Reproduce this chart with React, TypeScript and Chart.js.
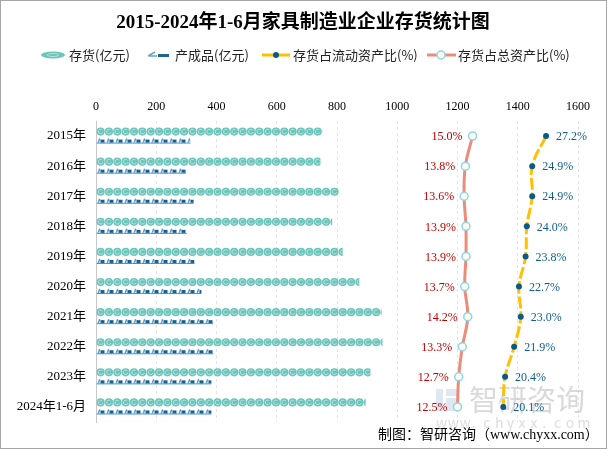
import React, { useEffect, useRef } from "react";
import { Chart, registerables } from "chart.js";
Chart.register(...registerables);

const categories = ["2015年", "2016年", "2017年", "2018年", "2019年", "2020年", "2021年", "2022年", "2023年", "2024年1-6月"];
const inventory = [751, 745, 807, 784, 819, 874, 948, 951, 911, 895];
const finished = [313, 299, 324, 302, 327, 350, 390, 390, 383, 383];
const currentRatio = [27.2, 24.9, 24.9, 24.0, 23.8, 22.7, 23.0, 21.9, 20.4, 20.1];
const totalRatio = [15.0, 13.8, 13.6, 13.9, 13.9, 13.7, 14.2, 13.3, 12.7, 12.5];
const xTickMax = 1600;
const xTickStep = 200;

const TITLE = "2015-2024年1-6月家具制造业企业存货统计图";
const LEGEND = ["存货(亿元)", "产成品(亿元)", "存货占流动资产比(%)", "存货占总资产比(%)"];
const FOOTER = "制图：智研咨询（www.chyxx.com）";

const FONT = "'Liberation Serif','Noto Sans CJK SC',serif";
const CJK = "'Noto Sans CJK SC',sans-serif";

function drawCircleSym(ctx: CanvasRenderingContext2D, cx: number, cy: number, r: number) {
  ctx.beginPath();
  ctx.arc(cx, cy, r, 0, Math.PI * 2);
  ctx.fillStyle = "#6cc5bb";
  ctx.fill();
  ctx.beginPath();
  ctx.arc(cx, cy, r * 0.55, 0.3, Math.PI * 1.8);
  ctx.strokeStyle = "#b4e4de";
  ctx.lineWidth = 1;
  ctx.stroke();
}

function drawFinishedSym(ctx: CanvasRenderingContext2D, x0: number, top: number, h: number) {
  ctx.fillStyle = "#3f8cc0";
  ctx.fillRect(x0, top + h - 1, 9, 1);
  ctx.fillStyle = "#5aa0cf";
  ctx.beginPath();
  ctx.moveTo(x0 + 1, top + h - 1);
  ctx.lineTo(x0 + 2.5, top + 0.5);
  ctx.lineTo(x0 + 4, top + 1.5);
  ctx.lineTo(x0 + 2.5, top + h - 1);
  ctx.closePath();
  ctx.fill();
  ctx.fillStyle = "#17608f";
  ctx.fillRect(x0 + 4, top + 2, 4, h - 3);
}

const pictorial = {
  id: "pictorial",
  afterDatasetDraw(chart: any, args: any) {
    const idx = args.index;
    if (idx !== 0 && idx !== 1) return;
    const ctx = chart.ctx as CanvasRenderingContext2D;
    const meta = args.meta;
    meta.data.forEach((el: any) => {
      const { x, y, base, height } = el.getProps(["x", "y", "base", "height"], true);
      const left = Math.min(base, x);
      const right = Math.max(base, x);
      ctx.save();
      ctx.beginPath();
      ctx.rect(left, y - height / 2 - 1, right - left, height + 2);
      ctx.clip();
      if (idx === 0) {
        const step = 8.35;
        const r = 4.1;
        for (let cx = left + r; cx - r < right; cx += step) drawCircleSym(ctx, cx, y, r);
      } else {
        const step = 9;
        const h = 6;
        for (let sx = left; sx < right; sx += step) drawFinishedSym(ctx, sx, y - h / 2, h);
      }
      ctx.restore();
    });
  },
};

const labelsPlugin = {
  id: "valueLabels",
  afterDatasetsDraw(chart: any) {
    const ctx = chart.ctx as CanvasRenderingContext2D;
    ctx.save();
    ctx.font = `12px ${FONT}`;
    ctx.textBaseline = "middle";
    const m3 = chart.getDatasetMeta(3);
    m3.data.forEach((p: any, i: number) => {
      ctx.fillStyle = "#c00000";
      ctx.textAlign = "right";
      ctx.fillText(totalRatio[i].toFixed(1) + "%", p.x - 10, p.y + 1);
    });
    const m2 = chart.getDatasetMeta(2);
    m2.data.forEach((p: any, i: number) => {
      ctx.fillStyle = "#0f5f8f";
      ctx.textAlign = "left";
      ctx.fillText(currentRatio[i].toFixed(1) + "%", p.x + 10, p.y + 1);
    });
    ctx.restore();
  },
};

const decor = {
  id: "decor",
  beforeDatasetsDraw(chart: any) {
    const ctx = chart.ctx as CanvasRenderingContext2D;
    ctx.save();
    // watermark
    ctx.fillStyle = "rgba(190,210,230,0.5)";
    ctx.fillRect(436, 389, 7, 22);
    ctx.fillRect(446, 389, 11, 7);
    ctx.fillRect(446, 398, 11, 13);
    ctx.fillStyle = "rgba(150,150,150,0.36)";
    ctx.font = `29px ${CJK}`;
    ctx.textBaseline = "middle";
    ctx.textAlign = "left";
    ctx.fillText("智研咨询", 469, 400);
    ctx.font = `14px ${CJK}`;
    ctx.fillStyle = "rgba(170,170,170,0.4)";
    const w = "www.chyxx.com";
    for (let i = 0; i < w.length; i++) ctx.fillText(w[i], 436 + i * 11.8, 423);
    ctx.restore();
  },
  afterDraw(chart: any) {
    const ctx = chart.ctx as CanvasRenderingContext2D;
    ctx.save();
    // border
    ctx.strokeStyle = "#a6a6a6";
    ctx.lineWidth = 1;
    ctx.strokeRect(0.5, 0.5, 606, 448);
    // title
    ctx.fillStyle = "#000";
    ctx.font = `bold 19px ${FONT}`;
    ctx.textAlign = "center";
    ctx.textBaseline = "middle";
    ctx.fillText(TITLE, 303, 23);
    // legend
    const ly = 55;
    ctx.font = `13px ${CJK}`;
    ctx.textAlign = "left";
    ctx.fillStyle = "#222";
    // item 1
    ctx.beginPath();
    ctx.ellipse(53, ly, 12, 3.5, 0, 0, Math.PI * 2);
    ctx.fillStyle = "#6cc5bb";
    ctx.fill();
    ctx.beginPath();
    ctx.ellipse(53, ly, 6, 1.5, 0, 0, Math.PI * 2);
    ctx.strokeStyle = "#b4e4de";
    ctx.lineWidth = 1;
    ctx.stroke();
    ctx.fillStyle = "#222";
    ctx.fillText(LEGEND[0], 69, ly);
    // item 2
    ctx.strokeStyle = "#6aa5c8";
    ctx.lineWidth = 1.5;
    ctx.beginPath();
    ctx.moveTo(148, ly + 1);
    ctx.lineTo(155, ly - 3);
    ctx.moveTo(149, ly + 1);
    ctx.lineTo(157, ly + 1);
    ctx.stroke();
    ctx.fillStyle = "#1f6391";
    ctx.fillRect(158, ly - 1, 11, 3);
    ctx.fillStyle = "#222";
    ctx.fillText(LEGEND[1], 175, ly);
    // item 3
    ctx.strokeStyle = "#ffc000";
    ctx.lineWidth = 3;
    ctx.beginPath();
    ctx.moveTo(262, ly);
    ctx.lineTo(290, ly);
    ctx.stroke();
    ctx.beginPath();
    ctx.arc(276, ly, 3, 0, Math.PI * 2);
    ctx.fillStyle = "#0b5a86";
    ctx.fill();
    ctx.fillStyle = "#222";
    ctx.fillText(LEGEND[2], 293, ly);
    // item 4
    ctx.strokeStyle = "#ec8c78";
    ctx.lineWidth = 3;
    ctx.beginPath();
    ctx.moveTo(427, ly);
    ctx.lineTo(456, ly);
    ctx.stroke();
    ctx.beginPath();
    ctx.arc(441, ly, 4, 0, Math.PI * 2);
    ctx.fillStyle = "#fdfbe9";
    ctx.fill();
    ctx.strokeStyle = "#8fd3f0";
    ctx.lineWidth = 1.5;
    ctx.stroke();
    ctx.fillStyle = "#222";
    ctx.fillText(LEGEND[3], 458, ly);
    // footer
    ctx.fillStyle = "#000";
    ctx.font = `14px ${FONT}`;
    ctx.fillText(FOOTER, 378, 435);
    ctx.restore();
  },
};

export default function App() {
  const ref = useRef<HTMLCanvasElement | null>(null);
  useEffect(() => {
    document.body.style.margin = "0";
    const canvas = ref.current;
    if (!canvas) return;
    const chart = new Chart(canvas, {
      type: "bar",
      data: {
        labels: categories,
        datasets: [
          {
            type: "bar",
            label: LEGEND[0],
            data: inventory,
            xAxisID: "x",
            yAxisID: "y",
            backgroundColor: "rgba(0,0,0,0)",
            borderWidth: 0,
            categoryPercentage: 0.6,
            barPercentage: 0.9,
          } as any,
          {
            type: "bar",
            label: LEGEND[1],
            data: finished,
            xAxisID: "x",
            yAxisID: "y",
            backgroundColor: "rgba(0,0,0,0)",
            borderWidth: 0,
            categoryPercentage: 0.6,
            barPercentage: 0.6,
          } as any,
          {
            type: "line",
            label: LEGEND[2],
            data: currentRatio,
            indexAxis: "y",
            xAxisID: "x2",
            yAxisID: "y",
            borderColor: "#ffc000",
            borderWidth: 3,
            borderDash: [12, 3],
            tension: 0.4,
            pointRadius: 3,
            pointBackgroundColor: "#0b5a86",
            pointBorderColor: "#0b5a86",
            pointBorderWidth: 0,
            fill: false,
          } as any,
          {
            type: "line",
            label: LEGEND[3],
            data: totalRatio,
            indexAxis: "y",
            xAxisID: "x2",
            yAxisID: "y",
            borderColor: "#ec8c78",
            borderWidth: 3,
            tension: 0.4,
            pointRadius: 4,
            pointBackgroundColor: "#fdfbe9",
            pointBorderColor: "#8fd3f0",
            pointBorderWidth: 1.5,
            fill: false,
          } as any,
        ],
      },
      options: {
        indexAxis: "y",
        responsive: false,
        animation: false,
        layout: { padding: { top: 95, right: 29, bottom: 27, left: 0 } },
        plugins: { legend: { display: false }, title: { display: false }, tooltip: { enabled: false } },
        scales: {
          x: {
            type: "linear",
            position: "top",
            min: 0,
            max: xTickMax,
            afterFit: (s: any) => { s.height = 26; },
            ticks: {
              stepSize: xTickStep,
              color: "#000",
              font: { size: 12, family: FONT },
              padding: 7,
              callback: (v: any) => String(v),
            },
            grid: { color: "#e4e4e4", drawTicks: false, lineWidth: 1 },
            border: { display: false, dash: [3, 3] },
          },
          x2: {
            type: "linear",
            display: false,
            min: -47.5,
            max: 32.5,
          },
          y: {
            type: "category",
            afterFit: (s: any) => { s.width = 96; },
            ticks: { color: "#000", font: { size: 13, family: FONT }, padding: 10 },
            grid: { display: false, drawTicks: false },
            border: { display: true, color: "#c8c8c8", width: 1 },
          },
        },
      } as any,
      plugins: [decor, pictorial, labelsPlugin],
    });
    return () => chart.destroy();
  }, []);
  return (
    <div style={{ position: "relative", width: 607, height: 449, background: "#fff" }}>
      <canvas ref={ref} width={607} height={449} style={{ display: "block" }} />
    </div>
  );
}
